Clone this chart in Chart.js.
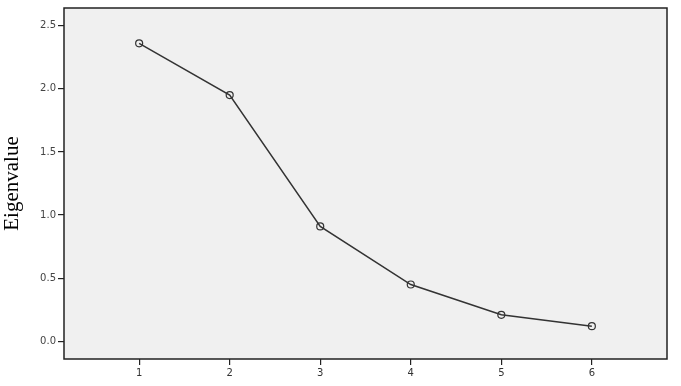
<!DOCTYPE html>
<html>
<head>
<meta charset="utf-8">
<script src="https://cdn.jsdelivr.net/npm/chart.js@4"></script>
<style>
  html, body { margin: 0; padding: 0; background: #fff; }
  #wrap { width: 681px; height: 386px; }
</style>
</head>
<body>
<div id="wrap"><canvas id="scree"></canvas></div>
<script>
const components = [1, 2, 3, 4, 5, 6];
const eigenvalues = [2.36, 1.95, 0.91, 0.45, 0.21, 0.12];
const yTicks = [0, 0.5, 1.0, 1.5, 2.0, 2.5];

// grey plot background
const plotBg = {
  id: "plotBg",
  beforeDraw(chart) {
    const { ctx, chartArea: a } = chart;
    ctx.save();
    ctx.fillStyle = "#f0f0f0";
    ctx.fillRect(a.left, a.top, a.right - a.left, a.bottom - a.top);
    ctx.strokeStyle = "#222";
    ctx.lineWidth = 1.5;
    ctx.strokeRect(a.left, a.top, a.right - a.left, a.bottom - a.top);
    ctx.restore();
  }
};

new Chart(document.getElementById("scree"), {
  type: "line",
  data: {
    datasets: [{
      data: components.map((c, i) => ({ x: c, y: eigenvalues[i] })),
      borderColor: "#333",
      borderWidth: 1.5,
      pointRadius: 3.5,
      pointBorderWidth: 1.2,
      pointBorderColor: "#333",
      pointBackgroundColor: "rgba(0,0,0,0)",
      tension: 0
    }]
  },
  options: {
    responsive: true,
    maintainAspectRatio: false,
    animation: false,
    layout: { padding: { top: 5, right: 14, left: 0, bottom: 0 } },
    plugins: { legend: { display: false }, tooltip: { enabled: false } },
    scales: {
      x: {
        type: "linear",
        min: 0.17,
        max: 6.83,
        afterBuildTicks: s => { s.ticks = components.map(v => ({ value: v })); },
        afterFit: s => { s.height = 27; },
        grid: { drawOnChartArea: false, tickLength: 6, color: "#222", lineWidth: 1.2 },
        border: { display: false },
        ticks: { color: "#333", font: { family: "DejaVu Sans", size: 10 }, padding: 2 }
      },
      y: {
        min: -0.14,
        max: 2.64,
        afterBuildTicks: s => { s.ticks = yTicks.map(v => ({ value: v })); },
        afterFit: s => { s.width = 64; },
        grid: { drawOnChartArea: false, tickLength: 6, color: "#222", lineWidth: 1.2 },
        border: { display: false },
        ticks: {
          color: "#444",
          font: { family: "DejaVu Sans", size: 10 },
          padding: 2,
          callback: v => v.toFixed(1)
        },
        title: {
          display: true,
          text: "Eigenvalue",
          color: "#000",
          font: { family: "Liberation Serif", size: 21 },
          padding: { top: 0, bottom: 4 }
        }
      }
    }
  },
  plugins: [plotBg]
});
</script>
</body>
</html>
